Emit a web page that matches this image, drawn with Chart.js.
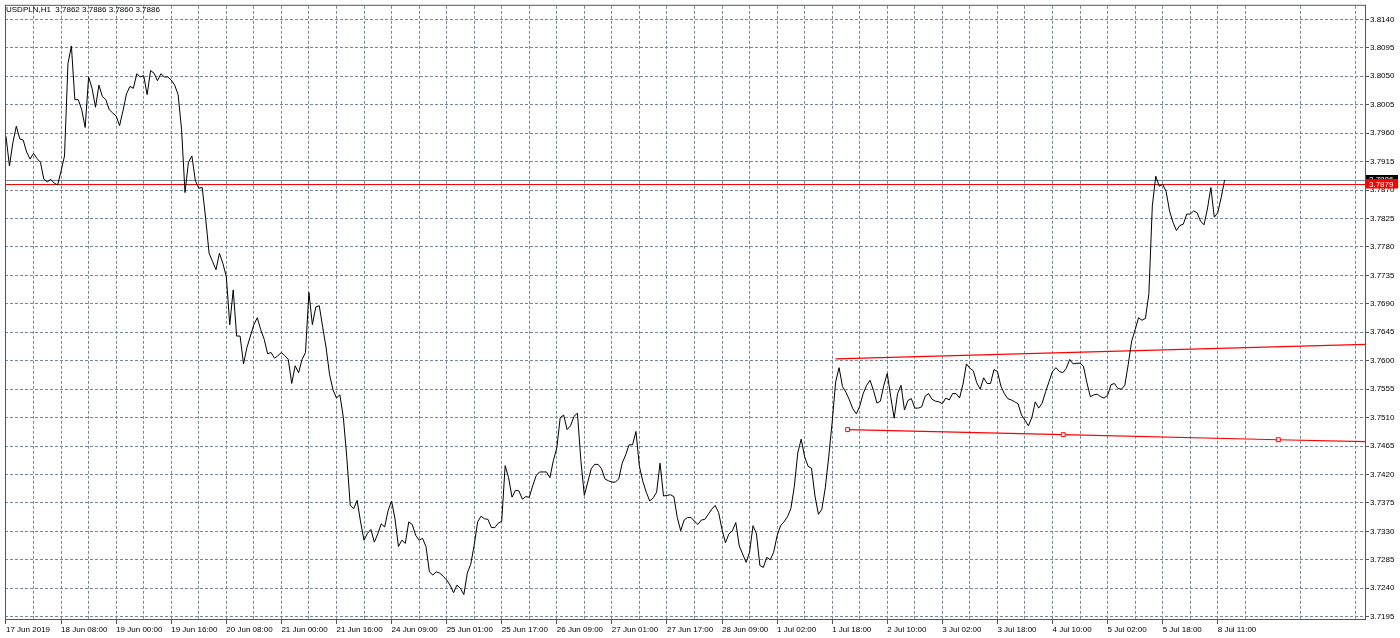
<!DOCTYPE html>
<html><head><meta charset="utf-8">
<script src="https://cdn.jsdelivr.net/npm/chart.js@4.4.1/dist/chart.umd.min.js"></script>
<style>html,body{margin:0;padding:0;background:#fff;overflow:hidden}canvas{display:block}</style>
</head><body>
<canvas id="c" width="1400" height="638"></canvas>
<script>
const symbolTitle = 'USDPLN,H1';
const ohlc = [3.7862, 3.7886, 3.7860, 3.7886];

const timeLabels = ['17 Jun 2019','18 Jun 08:00','19 Jun 00:00','19 Jun 16:00','20 Jun 08:00','21 Jun 00:00',
  '21 Jun 16:00','24 Jun 09:00','25 Jun 01:00','25 Jun 17:00','26 Jun 09:00','27 Jun 01:00','27 Jun 17:00',
  '28 Jun 09:00','1 Jul 02:00','1 Jul 18:00','2 Jul 10:00','3 Jul 02:00','3 Jul 18:00','4 Jul 10:00',
  '5 Jul 02:00','5 Jul 18:00','8 Jul 11:00'];

const yTicks = [3.7195,3.7240,3.7285,3.7330,3.7375,3.7420,3.7465,3.7510,3.7555,3.7600,3.7645,
  3.7690,3.7735,3.7780,3.7825,3.7870,3.7915,3.7960,3.8005,3.8050,3.8095,3.8140];

const closes = [
3.7955,3.7908,3.7945,3.7971,3.7951,3.7949,3.7930,3.7919,3.7928,3.7920,
3.7914,3.7887,3.7883,3.7887,3.7881,3.7878,3.7900,3.7924,3.8070,3.8098,
3.8013,3.8013,3.7997,3.7969,3.8049,3.8031,3.8001,3.8036,3.8018,3.8013,
3.7997,3.7992,3.7987,3.7972,3.7996,3.8022,3.8034,3.8031,3.8054,3.8049,
3.8051,3.8021,3.8059,3.8055,3.8043,3.8054,3.8049,3.8049,3.8044,3.8036,
3.8021,3.7966,3.7866,3.7914,3.7924,3.7885,3.7873,3.7874,3.7825,3.7770,
3.7757,3.7744,3.7770,3.7754,3.7733,3.7657,3.7712,3.7639,3.7639,3.7595,
3.7621,3.7639,3.7657,3.7668,3.7649,3.7634,3.7611,3.7613,3.7604,3.7608,
3.7613,3.7608,3.7602,3.7564,3.7592,3.7581,3.7602,3.7613,3.7708,3.7657,
3.7685,3.7687,3.7653,3.7620,3.7578,3.7554,3.7541,3.7546,3.7510,3.7447,
3.7371,3.7366,3.7379,3.7345,3.7316,3.7327,3.7333,3.7313,3.7326,3.7342,
3.7337,3.7363,3.7378,3.7350,3.7306,3.7316,3.7311,3.7345,3.7341,3.7324,
3.7316,3.7319,3.7306,3.7266,3.7261,3.7266,3.7264,3.7259,3.7253,3.7245,
3.7233,3.7245,3.7240,3.7230,3.7264,3.7278,3.7308,3.7345,3.7354,3.7350,
3.7349,3.7336,3.7336,3.7343,3.7346,3.7434,3.7415,3.7384,3.7395,3.7394,
3.7381,3.7385,3.7384,3.7402,3.7418,3.7424,3.7424,3.7424,3.7415,3.7442,
3.7462,3.7510,3.7514,3.7491,3.7497,3.7512,3.7517,3.7442,3.7387,3.7408,
3.7429,3.7436,3.7436,3.7429,3.7413,3.7410,3.7408,3.7408,3.7413,3.7438,
3.7451,3.7467,3.7467,3.7488,3.7433,3.7409,3.7392,3.7378,3.7383,3.7392,
3.7438,3.7386,3.7387,3.7388,3.7385,3.7352,3.7331,3.7348,3.7352,3.7352,
3.7346,3.7341,3.7348,3.7349,3.7357,3.7365,3.7371,3.7360,3.7333,3.7312,
3.7326,3.7331,3.7344,3.7307,3.7294,3.7281,3.7297,3.7339,3.7326,3.7276,
3.7273,3.7289,3.7285,3.7297,3.7323,3.7339,3.7345,3.7353,3.7366,3.7401,
3.7454,3.7476,3.7448,3.7433,3.7430,3.7386,3.7357,3.7365,3.7399,3.7448,
3.7503,3.7566,3.7589,3.7559,3.7550,3.7538,3.7524,3.7516,3.7528,3.7548,
3.7561,3.7569,3.7553,3.7533,3.7536,3.7561,3.7580,3.7543,3.7509,3.7548,
3.7561,3.7522,3.7537,3.7540,3.7525,3.7525,3.7527,3.7544,3.7548,3.7539,
3.7536,3.7535,3.7532,3.7541,3.7538,3.7548,3.7548,3.7541,3.7563,3.7595,
3.7588,3.7584,3.7565,3.7555,3.7573,3.7564,3.7564,3.7586,3.7583,3.7560,
3.7548,3.7540,3.7538,3.7535,3.7532,3.7514,3.7506,3.7497,3.7510,3.7535,
3.7525,3.7533,3.7551,3.7567,3.7583,3.7589,3.7583,3.7581,3.7588,3.7602,
3.7595,3.7596,3.7596,3.7591,3.7565,3.7543,3.7546,3.7547,3.7543,3.7541,
3.7545,3.7562,3.7564,3.7556,3.7555,3.7561,3.7594,3.7631,3.7649,3.7668,
3.7664,3.7667,3.7706,3.7845,3.7892,3.7876,3.7879,3.7868,3.7837,3.7819,
3.7806,3.7814,3.7816,3.7832,3.7832,3.7837,3.7834,3.7821,3.7815,3.7840,
3.7874,3.7827,3.7834,3.7858,3.7886
];

const upperTrendX = [241, 394.8];
const upperTrendY = [3.7603, 3.7626];
const lowerTrendX = [244.5, 307.1, 369.6, 394.8];
const lowerTrendY = [3.7491, 3.7483, 3.7475, 3.7472];
const lowerTrendMarkers = [true, true, true, false];

const bidLevel = 3.7886;
const redLevel = 3.7879;

const barsPerLabel = 16;
const barsPerGrid = 8;
const viewBars = [-0.29, 394.78];
const priceRange = [3.71898, 3.81615];

const FONT = { family: "'Liberation Sans', Arial, sans-serif", size: 8 };
const GRID = '#778899';

const mtPlugin = {
  id: 'mt',
  beforeDatasetsDraw(chart) {
    const { ctx, chartArea: a, scales: { y } } = chart;
    ctx.save();
    ctx.lineWidth = 1;
    const yb = Math.round(y.getPixelForValue(bidLevel)) + 0.5;
    ctx.strokeStyle = '#778899';
    ctx.beginPath(); ctx.moveTo(a.left, yb); ctx.lineTo(a.right, yb); ctx.stroke();
    const yr = Math.round(y.getPixelForValue(redLevel)) + 0.5;
    ctx.strokeStyle = '#ff0000';
    ctx.beginPath(); ctx.moveTo(a.left, yr); ctx.lineTo(a.right, yr); ctx.stroke();
    ctx.restore();
  },
  afterDraw(chart) {
    const { ctx, chartArea: a, scales: { y } } = chart;
    ctx.save();
    ctx.strokeStyle = '#555';
    ctx.lineWidth = 1;
    ctx.beginPath();
    ctx.moveTo(a.left + 0.5, a.top - 0.5); ctx.lineTo(a.right + 0.5, a.top - 0.5);
    ctx.moveTo(a.left + 0.5, a.top - 1); ctx.lineTo(a.left + 0.5, a.bottom);
    ctx.moveTo(a.right + 0.5, a.top - 1); ctx.lineTo(a.right + 0.5, a.bottom);
    ctx.moveTo(a.left, a.bottom - 0.5); ctx.lineTo(a.right + 1, a.bottom - 0.5);
    ctx.stroke();
    ctx.font = "8px 'Liberation Sans', Arial, sans-serif";
    ctx.fillStyle = '#000';
    ctx.textBaseline = 'middle';
    ctx.textAlign = 'left';
    ctx.fillText(symbolTitle + '  ' + ohlc.map(v => v.toFixed(4)).join(' '), 6, 9.5);
    const labels = [[bidLevel, '#000000'], [redLevel, '#ff0000']];
    for (const [lv, col] of labels) {
      const py = y.getPixelForValue(lv);
      ctx.fillStyle = col;
      ctx.fillRect(a.right + 1, Math.round(py) - 5, 32, 9.5);
      ctx.fillStyle = '#fff';
      ctx.fillText(lv.toFixed(4), a.right + 4, py);
    }
    ctx.restore();
  }
};

new Chart(document.getElementById('c'), {
  type: 'line',
  data: {
    datasets: [
      { data: closes.map((v, i) => ({ x: i, y: v })), borderColor: '#000', borderWidth: 1,
        pointRadius: 0, tension: 0, fill: false },
      { data: upperTrendX.map((x, i) => ({ x, y: upperTrendY[i] })), borderColor: '#ff0000',
        borderWidth: 1.2, pointRadius: 0, fill: false },
      { data: lowerTrendX.map((x, i) => ({ x, y: lowerTrendY[i] })), borderColor: '#ff0000',
        borderWidth: 1.2, fill: false, pointStyle: 'rect',
        pointRadius: lowerTrendMarkers.map(m => m ? 2.8 : 0),
        pointBackgroundColor: '#fff', pointBorderColor: '#ff0000', pointBorderWidth: 1 }
    ]
  },
  options: {
    responsive: false,
    animation: false,
    events: [],
    layout: { padding: { left: 2, top: 2, right: 0, bottom: 0 } },
    plugins: { legend: { display: false }, tooltip: { enabled: false } },
    scales: {
      x: {
        type: 'linear', min: viewBars[0], max: viewBars[1],
        afterBuildTicks: s => { const t = []; for (let v = 0; v <= viewBars[1]; v += barsPerGrid) t.push({ value: v }); s.ticks = t; },
        afterFit: s => { s.height = 18; },
        border: { display: false, dash: [3, 2] },
        grid: { color: GRID, tickLength: 4, tickBorderDash: [],
          tickColor: c => (c.tick && c.tick.value % barsPerLabel === 0) ? '#555' : 'rgba(0,0,0,0)' },
        ticks: { autoSkip: false, maxRotation: 0, minRotation: 0, align: 'start', padding: 1,
          color: '#000', font: FONT,
          callback: v => (v % barsPerLabel === 0 ? timeLabels[v / barsPerLabel] : '') }
      },
      y: {
        type: 'linear', position: 'right', min: priceRange[0], max: priceRange[1],
        afterBuildTicks: s => { s.ticks = yTicks.map(v => ({ value: v })); },
        afterFit: s => { s.width = 35; },
        border: { display: false, dash: [3, 2] },
        grid: { color: GRID, tickLength: 4, tickBorderDash: [], tickColor: '#555' },
        ticks: { padding: 1, color: '#000', font: FONT, callback: v => Number(v).toFixed(4) }
      }
    }
  },
  plugins: [mtPlugin]
});
</script>
</body></html>
